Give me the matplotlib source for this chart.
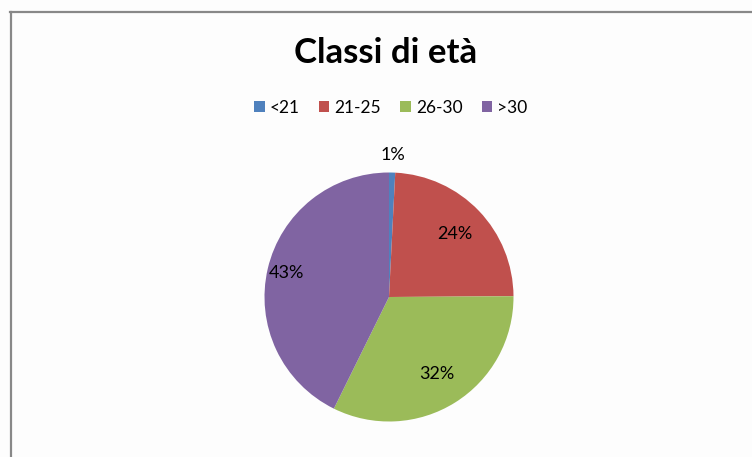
import matplotlib.pyplot as plt
from matplotlib.lines import Line2D
from matplotlib.patches import Patch

# Data
categories = ['<21', '21-25', '26-30', '>30']
shares = [0.8, 24.1, 32.4, 42.7]
colors = ['#4F81BD', '#C0504D', '#9BBB59', '#8064A2']

W, H = 752, 457
fig = plt.figure(figsize=(W / 100, H / 100), dpi=100)
fig.patch.set_facecolor('#fdfdfd')

# chart area frame (only top and left visible)
fig.add_artist(Line2D([10.5 / W, 10.5 / W], [0, 1 - 12 / H], color='#888888', lw=1.6))
fig.add_artist(Line2D([10 / W, 1], [1 - 12 / H, 1 - 12 / H], color='#888888', lw=1.6))

# pie axes centred at (389, 297) px, radius ~124 px
cx, cy, r = 389, 297, 124.5
ax = fig.add_axes([(cx - r) / W, 1 - (cy + r) / H, 2 * r / W, 2 * r / H])
wedges, texts, autotexts = ax.pie(shares, colors=colors, startangle=90, counterclock=False,
                                  autopct='%.0f%%', pctdistance=0.73,
                                  wedgeprops=dict(linewidth=0),
                                  textprops=dict(fontsize=13, family='Lato', color='black'))
ax.set_xlim(-1, 1)
ax.set_ylim(-1, 1)
ax.axis('off')

# move the small slice label outside and the big one further out
x, y = autotexts[0].get_position()
autotexts[0].set_position((x / 0.73 * 1.14, y / 0.73 * 1.14))
x, y = autotexts[3].get_position()
autotexts[3].set_position((x / 0.73 * 0.85, y / 0.73 * 0.85))

fig.text(386 / W, 1 - 53 / H, 'Classi di età', ha='center', va='center',
         fontsize=25, fontweight='bold', family='Lato')

handles = [Patch(facecolor=c, edgecolor='none') for c in colors]
fig.legend(handles, categories, loc='center', bbox_to_anchor=(391 / W, 1 - 108 / H),
           ncol=4, frameon=False, prop=dict(family='Lato', size=12.5),
           handlelength=0.6, handleheight=0.6, handletextpad=0.3, columnspacing=1.1)

fig.savefig('out.png', dpi=100, facecolor=fig.get_facecolor())
